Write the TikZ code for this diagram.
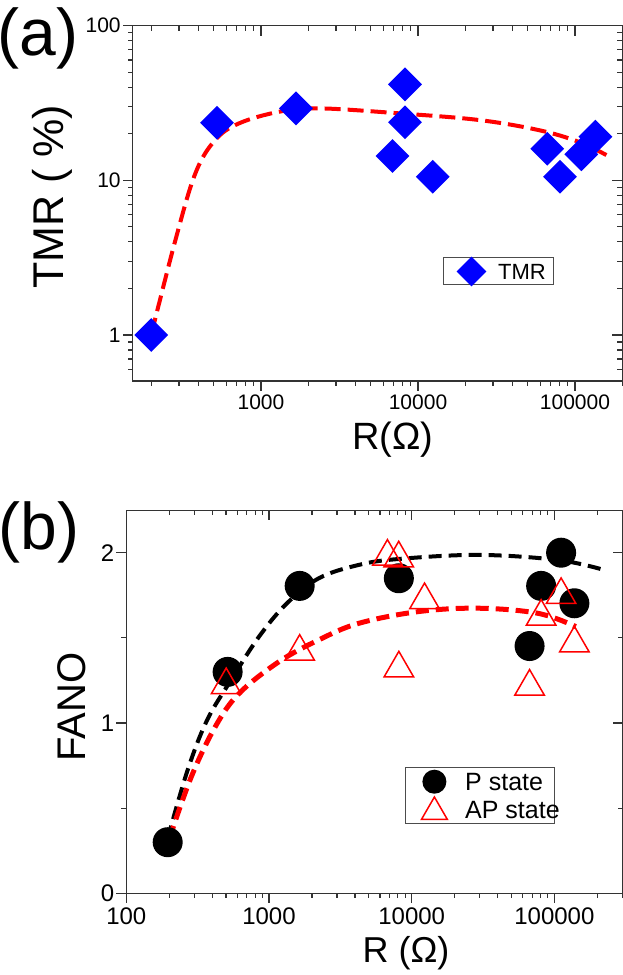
\documentclass[tikz,border=0pt]{standalone}
\usepackage{fontspec}
\setmainfont{Liberation Sans}
\usetikzlibrary{shapes.geometric}
\newcommand{\fsz}[1]{\fontsize{#1}{#1}\selectfont}
\tikzset{
  frame/.style={draw=black!80,line width=1.2pt},
  tmrpt/.style={shape=diamond,fill=blue,inner sep=0pt,minimum size=34pt},
  ppt/.style={shape=circle,fill=black,inner sep=0pt,minimum size=30pt},
  appt/.style={shape=regular polygon,regular polygon sides=3,draw=red,line width=1.5pt,inner sep=0pt,minimum size=34pt},
  fitline/.style={line width=4pt,dash pattern=on 16pt off 7pt},
  ticklab/.style={inner sep=2pt}
}
\begin{document}
\begin{tikzpicture}[x=1pt,y=1pt]
\useasboundingbox (0,0) rectangle (623,975);

% panel (a)
\node (labela) at (38,937) {\fsz{66}(a)};
\begin{scope}[shift={(261pt,794.7pt)},x=157pt,y=154.7pt]
  \draw[frame] (-0.817,-1.297) rectangle (2.30,1.0);
  % x ticks
  \foreach \d in {3,4,5}{
    \draw[frame] ({\d-3},-1.297) -- ++(0,-10pt);
    \draw[frame] ({\d-3},1.0) -- ++(0,-10pt);
  }
  \foreach \d in {2,3,4,5}{
    \foreach \m in {2,...,9}{
      \pgfmathsetmacro{\u}{\d-3+log10(\m)}
      \ifdim\u pt<2.31pt
        \draw[frame] (\u,-1.297) -- ++(0,-5pt);
        \draw[frame] (\u,1.0) -- ++(0,-5pt);
      \fi
    }
  }
  % y ticks
  \foreach \e in {-1,0,1}{
    \draw[frame] (-0.817,\e) -- ++(-10pt,0);
    \draw[frame] (2.30,\e) -- ++(-10pt,0);
  }
  \foreach \e in {-1,0}{
    \foreach \m in {2,...,9}{
      \draw[frame] (-0.817,{\e+log10(\m)}) -- ++(-5pt,0);
      \draw[frame] (2.30,{\e+log10(\m)}) -- ++(-5pt,0);
    }
  }
  \foreach \m in {6,...,9}{
    \draw[frame] (-0.817,{log10(\m)-2}) -- ++(-5pt,0);
    \draw[frame] (2.30,{log10(\m)-2}) -- ++(-5pt,0);
  }
  \node[ticklab,anchor=east] (ya1) at (-0.88,1) {\fsz{21}100};
  \node[ticklab,anchor=east] (ya2) at (-0.88,0) {\fsz{21}10};
  \node[ticklab,anchor=east] (ya3) at (-0.88,-1) {\fsz{21}1};
  \node[ticklab,anchor=north] (xa1) at (0,-1.37) {\fsz{21}1000};
  \node[ticklab,anchor=north] (xa2) at (1,-1.37) {\fsz{21}10000};
  \node[ticklab,anchor=north] (xa3) at (2,-1.37) {\fsz{21}100000};
  % fit
  \draw[red,fitline] plot[smooth,tension=0.6] coordinates {(-0.697,-0.99) (-0.545,-0.386) (-0.418,0.045) (-0.292,0.26) (-0.14,0.368) (0.115,0.443) (0.369,0.465) (0.877,0.433) (1.385,0.39) (1.766,0.325) (2.02,0.25) (2.2,0.163)};
  % data
  \foreach \u/\v [count=\i] in {-0.699/-1, -0.28/0.372, 0.223/0.465, 0.917/0.62, 0.917/0.375, 0.838/0.157, 1.094/0.023, 1.823/0.204, 1.904/0.023, 2.04/0.168, 2.13/0.282}
    \node[tmrpt] (tmr\i) at (\u,\v) {};
\end{scope}
\draw[black!70,line width=1pt] (443,690) rectangle (553,717);
\node[tmrpt,minimum size=30pt] (legtmr) at (471.5,703.5) {};
\node[anchor=west,inner sep=0pt] (legtmrtxt) at (498,703.5) {\fsz{22}TMR};
\node[rotate=90] (ylaba) at (52,778) {\fsz{43}TMR ( \%)};
\node (xlaba) at (393,535) {\fsz{38}R(Ω)};

% panel (b)
\node (labelb) at (39,443) {\fsz{66}(b)};
\begin{scope}[shift={(269pt,81.7pt)},x=142.7pt,y=170.3pt]
  \draw[frame] (-1,0) rectangle (2.48,2.25);
  \foreach \d in {2,3,4,5}{
    \draw[frame] ({\d-3},0) -- ++(0,-10pt);
    \draw[frame] ({\d-3},2.25) -- ++(0,-10pt);
  }
  \foreach \d in {2,3,4,5}{
    \foreach \m in {2,...,9}{
      \pgfmathsetmacro{\u}{\d-3+log10(\m)}
      \ifdim\u pt<2.48pt
        \draw[frame] (\u,0) -- ++(0,-5pt);
        \draw[frame] (\u,2.25) -- ++(0,-5pt);
      \fi
    }
  }
  \foreach \f in {0,1,2}{
    \draw[frame] (-1,\f) -- ++(-10pt,0);
    \draw[frame] (2.48,\f) -- ++(-10pt,0);
  }
  \foreach \f in {0.5,1.5}{
    \draw[frame] (-1,\f) -- ++(-5pt,0);
    \draw[frame] (2.48,\f) -- ++(-5pt,0);
  }
  \node[ticklab,anchor=east] (yb1) at (-1.07,2) {\fsz{24}2};
  \node[ticklab,anchor=east] (yb2) at (-1.07,1) {\fsz{24}1};
  \node[ticklab,anchor=east] (yb3) at (-1.07,0) {\fsz{24}0};
  \node[ticklab,anchor=north] (xb0) at (-1,-0.07) {\fsz{24}100};
  \node[ticklab,anchor=north] (xb1) at (0,-0.07) {\fsz{24}1000};
  \node[ticklab,anchor=north] (xb2) at (1,-0.07) {\fsz{24}10000};
  \node[ticklab,anchor=north] (xb3) at (2,-0.07) {\fsz{24}100000};
  % fits
  \draw[black,fitline,dash pattern=on 13pt off 7pt] plot[smooth,tension=0.6] coordinates {(-0.71,0.323) (-0.57,0.724) (-0.433,1.018) (-0.265,1.253) (-0.07,1.507) (0.126,1.703) (0.349,1.85) (0.628,1.928) (0.908,1.963) (1.467,1.987) (2.025,1.957) (2.346,1.899)};
  \draw[red,fitline,line width=5pt,dash pattern=on 13pt off 7pt] plot[smooth,tension=0.6] coordinates {(-0.698,0.323) (-0.544,0.685) (-0.376,0.979) (-0.209,1.174) (0.07,1.36) (0.349,1.488) (0.628,1.585) (1.046,1.654) (1.467,1.674) (1.885,1.644) (2.15,1.566)};
  % data
  \foreach \u/\v [count=\i] in {-0.71/0.3, -0.29/1.30, 0.215/1.805, 0.91/1.85, 1.826/1.452, 1.907/1.805, 2.047/2.0, 2.14/1.703}
    \node[ppt] (p\i) at (\u,\v) {};
  \foreach \u/\v [count=\i] in {-0.30/1.223, 0.215/1.419, 0.83/1.977, 0.909/1.967, 0.91/1.321, 1.09/1.722, 1.826/1.214, 1.907/1.625, 2.047/1.752, 2.14/1.468}
    \node[appt] (ap\i) at (\u,\v) {};
\end{scope}
\draw[black!70,line width=1pt] (405.7,151) rectangle (554,207.7);
\node[ppt,minimum size=24pt] (legp) at (434.4,193.3) {};
\node[appt,minimum size=30pt] (legap) at (434.4,163) {};
\node[anchor=west,inner sep=0pt] (legptxt) at (465,193.3) {\fsz{25}P state};
\node[anchor=west,inner sep=0pt] (legaptxt) at (465,165) {\fsz{25}AP state};
\node[rotate=90] (ylabb) at (72,268) {\fsz{40}FANO};
\node (xlabb) at (406,22) {\fsz{36}R (Ω)};
\end{tikzpicture}
\end{document}
